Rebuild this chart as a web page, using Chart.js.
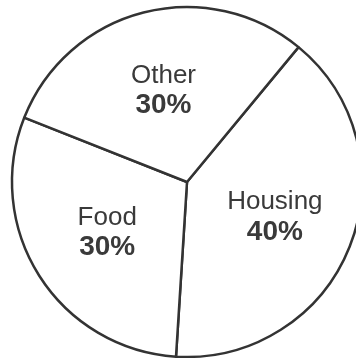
<!DOCTYPE html>
<html>
<head>
<meta charset="utf-8">
<script src="https://cdn.jsdelivr.net/npm/chart.js@4"></script>
<style>
  html, body { margin: 0; padding: 0; background: #fff; overflow: hidden; width: 356px; height: 358px; }
  #budgetChart { position: absolute; left: -13px; top: -18px; }
</style>
</head>
<body>
<canvas id="budgetChart" width="400" height="400"></canvas>
<script>
const categories = ['Housing', 'Food', 'Other'];
const shares = [40, 30, 30];
const shareLabels = ['40%', '30%', '30%'];

// draws the two-line label inside each slice
const sliceLabels = {
    id: 'sliceLabels',
    afterDatasetsDraw(chart) {
        const c = chart.ctx;
        const meta = chart.getDatasetMeta(0);
        c.save();
        c.fillStyle = '#3a3a3a';
        c.textAlign = 'center';
        c.textBaseline = 'middle';
        meta.data.forEach((arc, i) => {
            const p = arc.getProps(['x', 'y', 'startAngle', 'endAngle', 'outerRadius'], true);
            const mid = (p.startAngle + p.endAngle) / 2;
            const r = p.outerRadius * 0.54;
            const x = p.x + Math.cos(mid) * r;
            const y = p.y + Math.sin(mid) * r;
            c.font = '26px "Liberation Sans", Arial, sans-serif';
            c.fillText(categories[i], x, y - 15);
            c.font = 'bold 28px "Liberation Sans", Arial, sans-serif';
            c.fillText(shareLabels[i], x, y + 15);
        });
        c.restore();
    }
};

const ctx = document.getElementById('budgetChart').getContext('2d');
const budgetChart = new Chart(ctx, {
    type: 'pie',
    data: {
        labels: categories,
        datasets: [{
            data: shares,
            backgroundColor: '#ffffff',
            borderColor: '#333333',
            borderWidth: 2.5,
            hoverOffset: 0
        }]
    },
    options: {
        responsive: false,
        animation: false,
        rotation: 39.6,
        radius: 175,
        plugins: {
            legend: { display: false },
            tooltip: { enabled: false }
        }
    },
    plugins: [sliceLabels]
});
</script>
</body>
</html>
